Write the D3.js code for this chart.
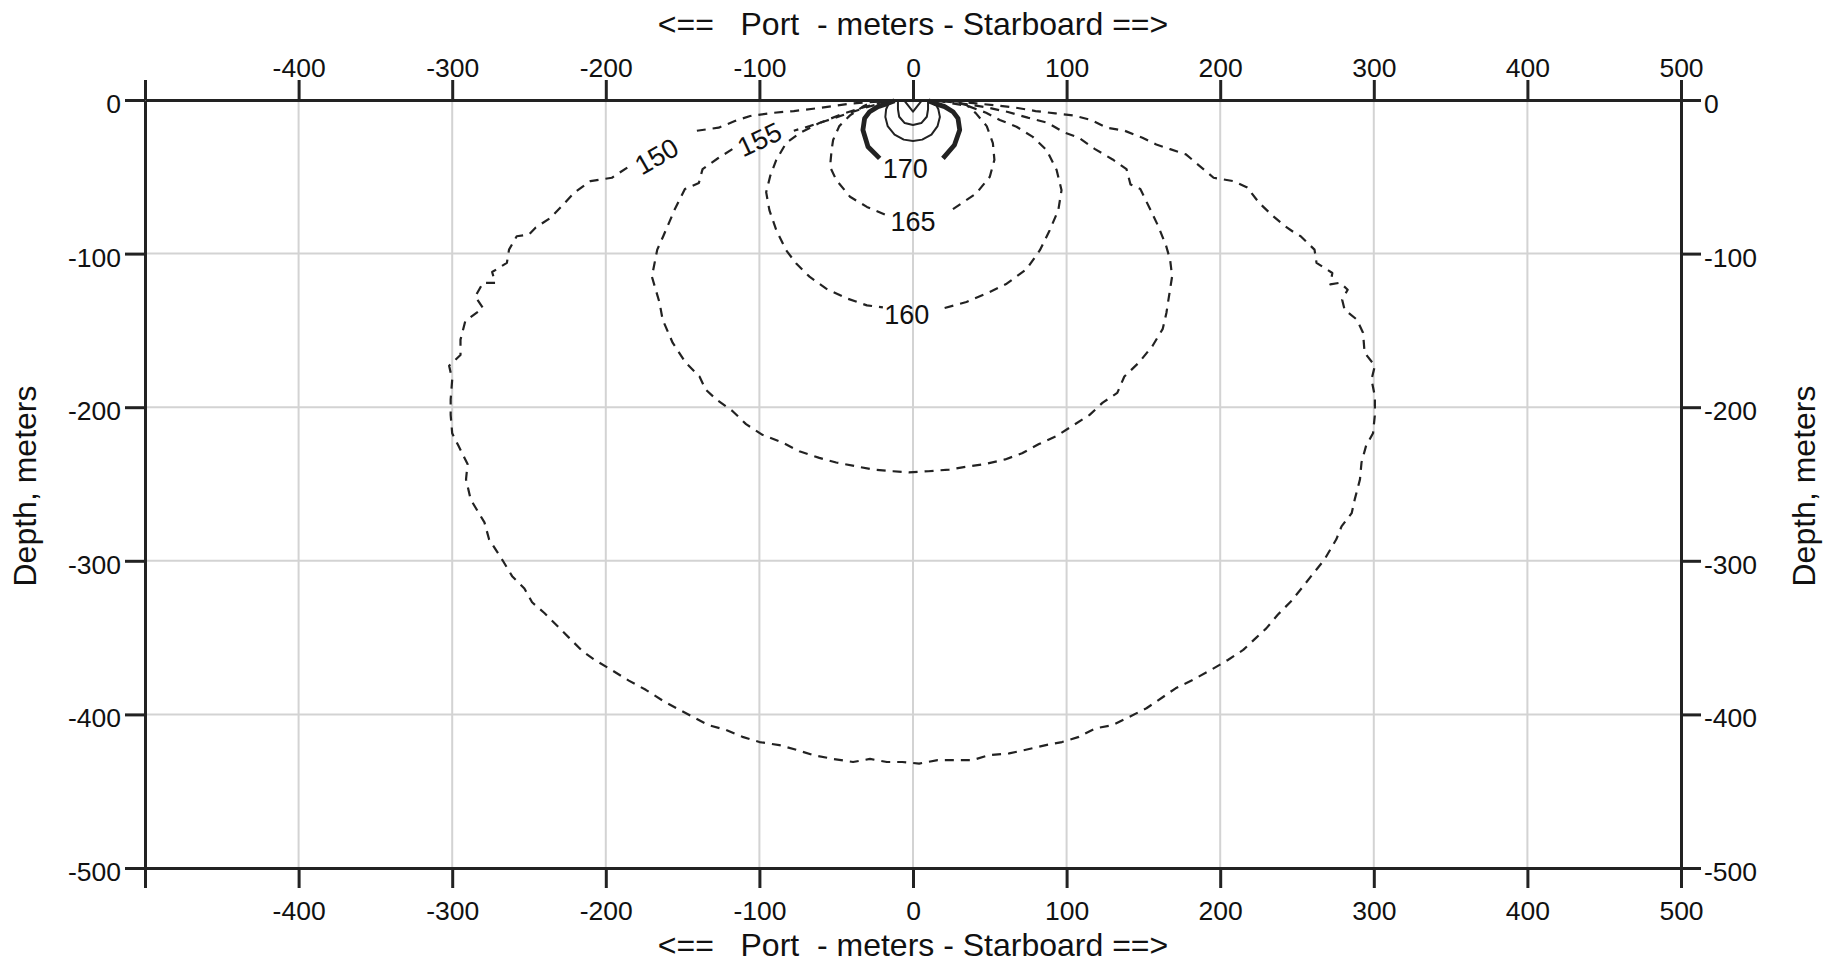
<!DOCTYPE html>
<html><head><meta charset="utf-8">
<script src="https://cdn.jsdelivr.net/npm/d3@7"></script>
<style>
html,body{margin:0;padding:0;background:#fff;}
svg{display:block;font-family:"Liberation Sans",Arial,Helvetica,sans-serif;}
</style></head><body>
<svg id="chart" width="1825" height="964"></svg>
<script>
// ---------------- data ----------------
const xTicks = [-500,-400,-300,-200,-100,0,100,200,300,400,500];
const yTicks = [0,-100,-200,-300,-400,-500];
const xGrid = [-400,-300,-200,-100,0,100,200,300,400];
const yGrid = [-100,-200,-300,-400];
const xTitle = "<==\u00A0\u00A0\u00A0Port\u00A0\u00A0-\u00A0meters\u00A0-\u00A0Starboard\u00A0==>";
const yTitle = "Depth, meters";

// contour lines: [cross-range m, depth m], split where a label interrupts
const contour150 = [
  [[-12,-0.4],[-26,-1.3],[-39,-2.2],[-52,-3.9],[-65,-5.7],[-77.6,-7.2],[-90.5,-8.3],[-106,-10.4],[-116,-13.7],[-126.5,-18],[-140.7,-20]],
  [[-186,-44],[-196,-50.6],[-210,-52.8],[-220.6,-60.4],[-228.6,-69],[-236,-76.7],[-245.6,-83],[-250,-87.6],[-258,-88.7],[-263,-97.4],[-264.4,-106],[-274,-112],[-272,-119],[-280,-119],[-285,-128],[-280,-135.4],[-291.5,-144],[-294.6,-156],[-294.6,-166],[-302,-173],[-300,-182],[-301,-195],[-301,-205],[-300,-217],[-296,-225],[-290,-237],[-291,-247],[-288,-260],[-279,-275],[-276,-286],[-267,-300],[-261,-310],[-253,-318],[-248,-327],[-240,-334],[-230,-344],[-224,-350],[-215,-359],[-206.5,-365],[-198,-370],[-185,-378],[-174,-384],[-163,-391],[-154,-396],[-143.5,-401.5],[-133,-407],[-122,-410],[-111,-414.6],[-100,-418],[-87,-420],[-76,-423],[-65,-426.5],[-52,-429],[-39,-431],[-28,-429],[-17,-431],[-7,-431],[4,-432],[16,-429.8],[25.7,-429.8],[38.7,-429.8],[49.6,-426.5],[62.6,-425.4],[73.5,-423],[86.5,-420],[97,-418],[108,-414.6],[119,-409],[130,-407],[141,-401.5],[152,-396],[163,-388.5],[171,-383],[182,-377.6],[194,-371],[205,-364.6],[215,-358],[223.5,-350],[230,-344],[237.6,-335],[246,-326.5],[254,-316.7],[260,-309],[268,-299],[275.6,-286],[279,-277.6],[285.6,-269],[287.6,-260],[291,-247],[292,-236],[295,-225],[299.5,-217],[300.7,-205],[300.7,-193],[298.5,-182],[300.7,-173],[294,-164.5],[293,-151.5],[289,-143],[281,-136.5],[279.4,-130],[283,-123.5],[278,-119],[271.7,-120],[273,-112.6],[262.7,-106],[261.4,-97.4],[252.4,-88.7],[248.5,-86.5],[242,-82],[234.4,-75.6],[225.4,-67],[217.6,-57],[208.6,-52.8],[195.7,-50.6],[186.7,-43],[177.7,-35.4],[167.4,-32],[158.4,-29],[149.4,-24.6],[137.8,-20],[126,-18],[116,-13],[104.3,-10],[92.7,-8.7],[79.8,-7.2],[67,-5],[54,-3.5],[41,-2.2],[28,-0.9],[14,-0.4]]
];
const contour155 = [
  [[-15,-0.6],[-31,-5],[-44,-9.3],[-57,-13.7],[-67.3,-17],[-77.6,-20]],
  [[-117.6,-32],[-126.5,-37.6],[-137,-45],[-139.4,-54],[-148.5,-58],[-155,-71],[-162.6,-88.7],[-166.5,-97.4],[-170,-115],[-165,-132],[-163,-143],[-156.5,-158],[-148,-171],[-139,-180],[-135,-188.5],[-128,-195],[-117.4,-202.6],[-108.7,-211],[-98,-218],[-85,-223],[-74,-228.7],[-61,-233],[-50,-236],[-37,-238.5],[-26,-240.6],[-13,-241.7],[-2.6,-242.4],[10,-241.7],[23.5,-240.6],[36.5,-238.5],[47,-237],[60,-234],[71,-230],[82,-224],[93,-219],[104,-212],[115,-205],[123.5,-197],[133,-190.7],[137.6,-180],[147,-171],[156,-160],[162.6,-149],[165,-138.5],[166,-132],[168.7,-114.8],[167.4,-104],[164.8,-95],[159.6,-82],[154.5,-71.3],[148,-58],[141.6,-55],[139,-45],[130,-38.7],[118.5,-32],[108,-24.6],[97.9,-20.9],[87.6,-14.8],[74.7,-11.5],[61.8,-7.8],[49,-5],[36,-2.8],[18,-0.6]]
];
const contour160 = [
  [[-18,-0.5],[-24,-2.6],[-34.8,-5.4],[-47.8,-9.8],[-61,-15],[-74,-21.7],[-82.6,-28],[-89,-39],[-93,-49.6],[-95.6,-60],[-93.5,-71.7],[-89,-84.8],[-82.6,-97.8],[-76,-106.5],[-67.4,-115],[-56.5,-122.8],[-43.5,-129],[-30,-133.7],[-19.6,-135]],
  [[20.6,-135.4],[34.8,-131.5],[47.8,-126],[61,-119.6],[74,-110],[82.6,-97.8],[89,-84.8],[94.6,-71.7],[96.7,-58.7],[93.5,-45.6],[87,-32.6],[78,-24],[67.4,-17.4],[56.5,-13],[47.6,-8.3],[36,-4],[23,-1.7],[16,-0.5]]
];
const contour165 = [
  [[-20,-0.4],[-26,-1],[-32.6,-4.3],[-41,-10],[-48,-17],[-52,-26],[-53,-32.6],[-54,-43.5],[-50,-52],[-41,-63],[-30,-69.6],[-17.4,-75]],
  [[26,-71],[41,-61],[50,-50],[53,-39],[52,-28],[48,-17],[41,-8.7],[35,-3.3],[25.8,-1],[18,-0.4]]
];
const contour170 = [
  [[-21.7,-38],[-29.3,-30.4],[-32.6,-19.5],[-31.5,-12],[-28.2,-7.6],[-22.8,-4.3],[-16.3,-2.2],[-12,-0.5]],
  [[19.5,-38],[27,-29.3],[30.4,-19.5],[29.3,-12],[26,-7.6],[20.6,-4.3],[14,-2.2],[10,-0.5]]
];
const contour175 = [
  [[-15.2,-1],[-17.5,-6],[-18,-11],[-16.5,-17],[-12,-22.5],[-6,-25.8],[0,-26.7],[6,-25.8],[12,-22.5],[16,-17],[17.5,-11],[16.5,-6],[14,-1]]
];
const contour180 = [
  [[-9.8,-1],[-9.8,-6],[-9,-10.9],[-5.4,-15],[0,-16.3],[5.4,-15],[9,-10.9],[9.8,-6],[9.8,-1]],
  [[-5.4,-0.8],[0,-7.6],[5.4,-0.8]]
];
const contourLabels = [
  {text:"150", x:-167, y:-36.5},
  {text:"155", x:-100, y:-25.5},
  {text:"160", x:-4,   y:-139.5},
  {text:"165", x:0,    y:-79},
  {text:"170", x:-5,   y:-44.6}
];

// ---------------- drawing ----------------
const svg = d3.select("#chart");
const x = d3.scaleLinear().domain([-500,500]).range([145,1681]);
const y = d3.scaleLinear().domain([0,-500]).range([100,868]);
const ink = "#222";
const line = d3.line().x(d=>x(d[0])).y(d=>y(d[1]));
const tickFont = 26.5;

// grid
const grid = svg.append("g").attr("stroke","#d3d3d3").attr("stroke-width",2);
grid.selectAll(".gx").data(xGrid).join("line")
  .attr("x1",d=>x(d)).attr("x2",d=>x(d)).attr("y1",y(0)).attr("y2",y(-500));
grid.selectAll(".gy").data(yGrid).join("line")
  .attr("y1",d=>y(d)).attr("y2",d=>y(d)).attr("x1",x(-500)).attr("x2",x(500));

// contours
const styles = [
  {data:contour150, w:2.2, dash:"9,7"},
  {data:contour155, w:2.2, dash:"9,7"},
  {data:contour160, w:2.2, dash:"9,7"},
  {data:contour165, w:2.2, dash:"9,7"},
  {data:contour170, w:4.8, dash:null},
  {data:contour175, w:2, dash:null},
  {data:contour180, w:2, dash:null}
];
const cg = svg.append("g").attr("fill","none").attr("stroke",ink).attr("stroke-linejoin","round");
styles.forEach(s=>{
  cg.append("g").selectAll("path").data(s.data).join("path")
    .attr("d",line).attr("stroke-width",s.w)
    .attr("stroke-dasharray",s.dash);
});

// axes
function styleAxis(g){
  g.select(".domain").attr("stroke",ink).attr("stroke-width",3);
  g.selectAll(".tick line").attr("stroke",ink).attr("stroke-width",3);
  g.selectAll(".tick text").attr("fill","#111").attr("font-size",tickFont)
    .attr("font-family","'Liberation Sans',Arial,Helvetica,sans-serif");
}
const fmtX = d => d===-500 ? "" : String(d);
const fmtY = d => String(d);
svg.append("g").attr("transform",`translate(0,${y(0)})`)
  .call(d3.axisTop(x).tickValues(xTicks).tickFormat(fmtX).tickSize(20).tickSizeOuter(0).tickPadding(3))
  .call(styleAxis);
svg.append("g").attr("transform",`translate(0,${y(-500)})`)
  .call(d3.axisBottom(x).tickValues(xTicks).tickFormat(fmtX).tickSize(20).tickSizeOuter(0).tickPadding(13))
  .call(styleAxis);
svg.append("g").attr("transform",`translate(${x(-500)},0)`)
  .call(d3.axisLeft(y).tickValues(yTicks).tickFormat(fmtY).tickSize(20).tickSizeOuter(0).tickPadding(4))
  .call(styleAxis)
  .selectAll(".tick text").attr("dy","0.47em").attr("y",0);
svg.append("g").attr("transform",`translate(${x(500)},0)`)
  .call(d3.axisRight(y).tickValues(yTicks).tickFormat(fmtY).tickSize(20).tickSizeOuter(0).tickPadding(3))
  .call(styleAxis)
  .selectAll(".tick text").attr("dy","0.47em").attr("y",0);

// contour labels
const rot = {"150":-30, "155":-25};
svg.append("g").selectAll("text").data(contourLabels).join("text")
  .attr("transform",d=>`translate(${x(d.x)},${y(d.y)}) rotate(${rot[d.text]||0})`)
  .attr("text-anchor","middle").attr("dy","0.36em")
  .attr("font-size",27).attr("fill","#111")
  .text(d=>d.text);

// titles
const cx = (x(-500)+x(500))/2, cy = (y(0)+y(-500))/2;
svg.append("text").attr("x",cx).attr("y",35).attr("text-anchor","middle")
  .attr("font-size",32).attr("fill","#111").text(xTitle);
svg.append("text").attr("x",cx).attr("y",956).attr("text-anchor","middle")
  .attr("font-size",32).attr("fill","#111").text(xTitle);
svg.append("text").attr("transform",`translate(36,${cy+2}) rotate(-90)`).attr("text-anchor","middle")
  .attr("font-size",32).attr("fill","#111").text(yTitle);
svg.append("text").attr("transform",`translate(1815,${cy+2}) rotate(-90)`).attr("text-anchor","middle")
  .attr("font-size",32).attr("fill","#111").text(yTitle);
</script>
</body></html>
